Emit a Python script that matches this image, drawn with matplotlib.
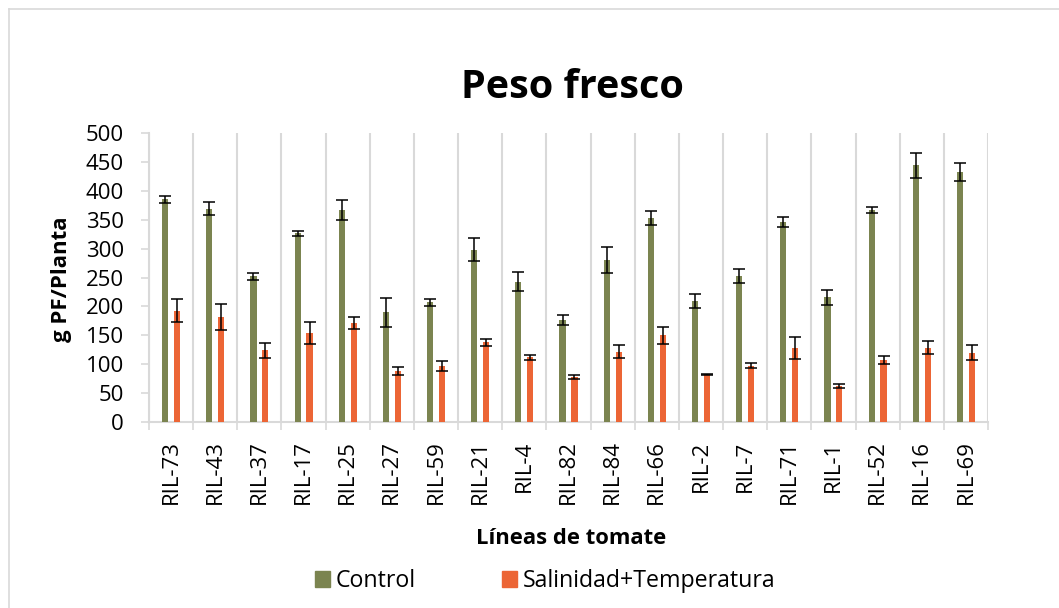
import numpy as np
import matplotlib
matplotlib.use("Agg")
import matplotlib.pyplot as plt
from matplotlib.patches import Patch

plt.rcParams['font.family'] = ['Open Sans', 'DejaVu Sans']

# === Data ===
lineas = ["RIL-73", "RIL-43", "RIL-37", "RIL-17", "RIL-25", "RIL-27", "RIL-59",
          "RIL-21", "RIL-4", "RIL-82", "RIL-84", "RIL-66", "RIL-2", "RIL-7",
          "RIL-71", "RIL-1", "RIL-52", "RIL-16", "RIL-69"]
control = [385, 369, 252, 326, 366, 190, 207, 298, 243, 176, 280, 353, 209, 252,
           346, 216, 366, 444, 432]
control_err = [6, 11.5, 6, 4.5, 17, 25, 6.5, 20, 17, 8.5, 22, 12, 12, 12,
               8, 13, 5, 21.5, 16]
salinidad = [193, 182, 124, 154, 171, 88, 97, 138, 112, 78, 122, 150, 83, 98,
             128, 63, 108, 129, 120]
salinidad_err = [19.5, 23, 13, 19, 10, 7, 8, 5.5, 4.5, 3.5, 11, 14, 1, 4.5,
                 18.5, 3.5, 7, 11.5, 13]

c_control = "#7B8450"
c_sal = "#EC6535"
grid_c = "#D9D9D9"

# === Figure ===
fig = plt.figure(figsize=(10.59, 6.08), dpi=100)
ax = fig.add_axes([149 / 1059, 1 - 422.3 / 608, (988 - 149) / 1059, (422.3 - 132.7) / 608])

x = np.arange(len(lineas))
w = 0.14
err_kw = dict(ecolor="black", elinewidth=1.1, capsize=4, capthick=1.1)
ax.bar(x - 0.135, control, w, yerr=control_err, color=c_control, error_kw=err_kw, zorder=3)
ax.bar(x + 0.135, salinidad, w, yerr=salinidad_err, color=c_sal, error_kw=err_kw, zorder=3)

ax.set_xlim(-0.5, len(lineas) - 0.5)
ax.set_ylim(0, 500)
ax.set_yticks(np.arange(0, 501, 50))
ax.set_xticks(x)
ax.set_xticklabels(lineas, rotation=90, fontsize=16)
ax.set_xticks(np.arange(-0.5, len(lineas), 1), minor=True)
ax.tick_params(axis='x', which='major', length=0, pad=13)
ax.tick_params(axis='x', which='minor', length=6, width=1.2, color=grid_c)
ax.tick_params(axis='y', which='major', length=6, width=1.2, color=grid_c, labelsize=16, pad=12)
ax.grid(axis='x', which='minor', color=grid_c, linewidth=1.5, zorder=0)

for s in ['top', 'right']:
    ax.spines[s].set_visible(False)
for s in ['left', 'bottom']:
    ax.spines[s].set_color(grid_c)
    ax.spines[s].set_linewidth(1.5)

fig.text(572 / 1059, 1 - 87 / 608, "Peso fresco", fontsize=28.5, fontweight='bold',
         ha='center', va='center')
fig.text(571 / 1059, 1 - 539 / 608, "Líneas de tomate", fontsize=15.8, fontweight='bold',
         ha='center', va='center')
fig.text(62 / 1059, 1 - 279 / 608, "g PF/Planta", fontsize=16, fontweight='bold',
         ha='center', va='center', rotation=90)

handles = [Patch(color=c_control, label="Control"),
           Patch(color=c_sal, label="Salinidad+Temperatura")]
fig.legend(handles=handles, loc='center', bbox_to_anchor=(545 / 1059, 1 - 581 / 608),
           ncol=2, frameon=False, fontsize=16.7, handlelength=0.65, handleheight=0.65,
           handletextpad=0.25, columnspacing=3.7)

# chart frame (only top and left edges are inside the picture)
fig.add_artist(plt.Line2D([8.5 / 1059, 1.0], [1 - 9 / 608, 1 - 9 / 608],
                          transform=fig.transFigure, color=grid_c, linewidth=1.2))
fig.add_artist(plt.Line2D([8.5 / 1059, 8.5 / 1059], [0, 1 - 9 / 608],
                          transform=fig.transFigure, color=grid_c, linewidth=1.2))

fig.savefig("out.png", dpi=100)
